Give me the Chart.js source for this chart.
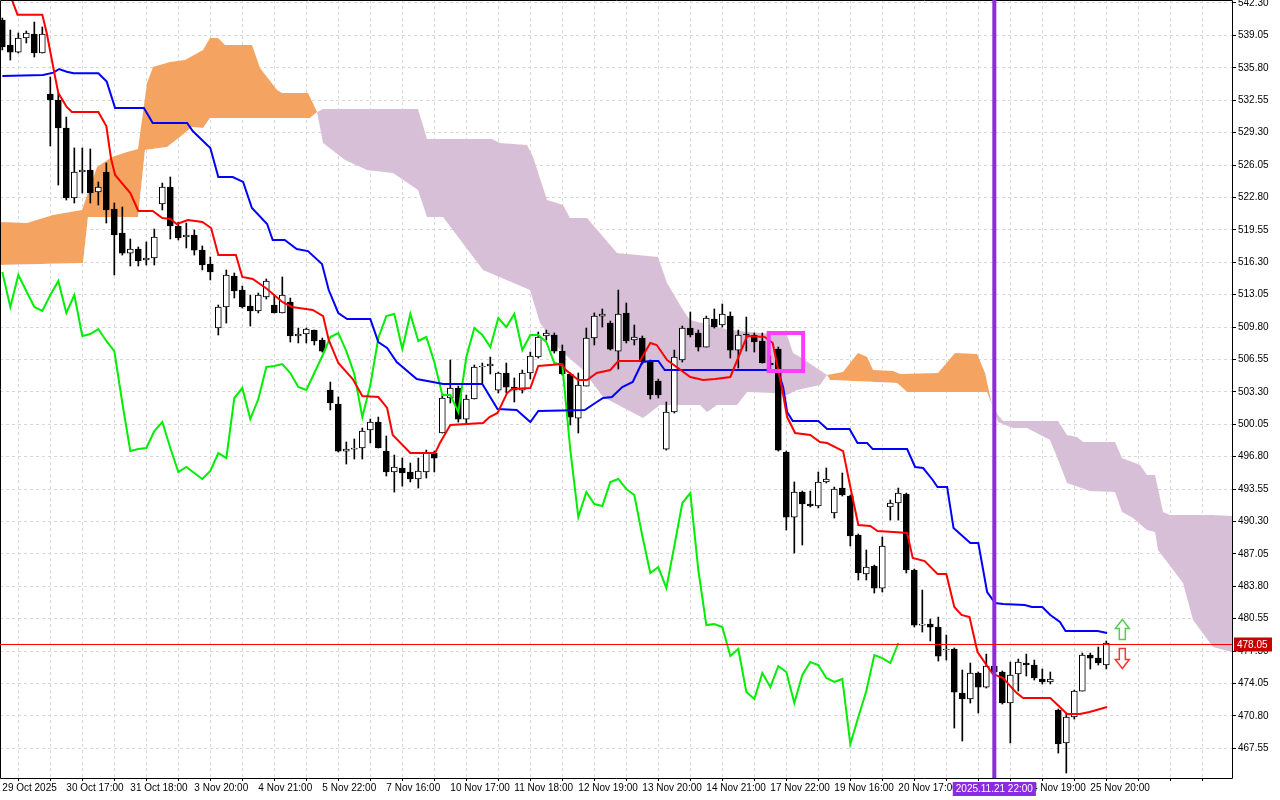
<!DOCTYPE html>
<html><head><meta charset="utf-8">
<script src="https://cdn.jsdelivr.net/npm/chart.js@4.4.1/dist/chart.umd.min.js"></script>
<style>html,body{margin:0;padding:0;background:#fff}canvas{display:block}</style>
</head><body>
<canvas id="c" width="1280" height="800" style="width:1280px;height:800px"></canvas>
<script>
const opens=[540.59,538.09,537.38,538.79,539.19,537.28,533.17,532.57,529.76,522.74,
525.35,525.55,523.34,525.35,521.64,519.23,517.22,517.62,516.52,516.72,
522.14,523.84,519.93,518.83,519.03,517.52,516.12,509.70,511.81,514.92,
513.51,511.91,511.41,512.81,512.01,511.21,512.31,508.90,509.10,509.50,
508.50,503.48,502.08,497.36,497.56,497.67,499.47,500.27,497.36,495.26,
495.66,495.26,494.56,495.26,497.16,499.17,502.68,503.68,500.57,502.58,
505.79,505.89,503.48,505.19,503.78,503.48,505.19,506.79,508.90,509.00,
507.39,505.09,500.67,503.88,508.70,510.90,510.20,507.39,511.21,508.50,
508.70,506.29,504.38,497.56,501.28,506.49,509.70,509.20,507.79,510.60,
510.00,510.90,507.49,509.10,509.00,508.40,506.19,507.59,497.26,490.74,
493.25,492.05,491.85,494.26,491.15,493.65,492.85,488.94,485.03,485.83,
483.62,491.75,492.15,493.05,485.43,479.91,480.01,479.71,477.41,477.51,
473.09,472.49,475.10,473.69,475.80,475.20,472.09,475.00,476.10,475.90,
474.50,474.20,471.39,468.08,470.69,473.29,476.90,476.60,475.90];
const highs=[540.79,539.59,539.29,539.49,540.39,539.89,534.88,533.27,530.86,527.76,
527.76,527.66,524.35,526.25,522.24,521.84,518.63,517.83,518.33,519.63,
524.24,524.85,520.33,520.23,519.53,517.93,516.82,512.01,515.52,515.22,
513.91,513.01,513.21,514.62,513.01,514.82,512.71,509.70,509.70,509.50,
508.70,504.28,502.78,498.27,498.57,499.67,500.57,500.77,498.87,496.96,
496.66,496.16,496.66,497.46,497.36,503.08,506.49,503.88,502.98,505.99,
506.19,506.79,505.29,506.19,504.69,505.49,507.29,509.30,509.50,509.20,
508.00,505.19,505.19,509.70,511.21,511.61,510.40,513.51,512.21,510.00,
508.90,506.49,504.58,502.28,507.49,509.90,511.31,509.50,510.90,511.61,
512.11,511.31,509.50,510.80,509.20,509.20,506.90,507.79,497.36,494.26,
493.35,493.35,495.26,495.66,493.75,495.16,492.95,489.04,487.44,485.93,
488.74,492.45,493.65,493.15,485.53,483.42,480.51,480.71,478.91,477.61,
475.40,476.10,475.20,477.00,476.30,475.30,476.20,476.50,477.00,476.40,
475.50,475.20,471.49,471.08,473.39,477.10,477.10,477.71,478.31];
const lows=[537.59,536.58,537.28,538.29,536.88,537.28,527.96,524.04,522.54,522.24,
523.24,522.24,522.04,520.23,515.02,517.02,515.92,515.92,516.02,516.02,
521.54,518.63,518.53,517.73,517.02,515.52,514.52,509.00,510.20,512.71,
511.71,509.90,511.21,512.61,511.21,511.21,508.30,508.20,508.20,508.00,
507.29,501.48,497.26,496.06,496.56,496.56,498.17,497.67,494.86,493.25,
493.85,494.26,493.65,494.66,495.26,499.17,502.18,500.27,500.07,502.58,
504.18,505.09,503.18,503.18,502.28,503.18,504.59,506.69,508.50,507.19,
504.99,499.97,499.17,503.88,508.00,509.80,507.49,505.59,508.20,508.00,
506.09,502.58,502.68,497.46,501.18,506.29,508.80,507.39,507.79,509.70,
509.80,506.69,505.69,507.39,507.29,506.19,505.60,497.36,489.44,487.13,
487.94,491.75,491.65,494.16,490.64,492.85,487.84,484.43,484.43,483.12,
483.22,490.44,490.44,485.13,479.71,479.21,478.31,476.30,476.40,469.58,
468.28,472.09,471.08,473.59,474.90,471.99,468.08,473.29,474.80,474.40,
474.00,474.00,467.07,465.07,470.48,473.29,475.50,475.90,475.50];
const closes=[537.89,537.38,538.79,539.29,537.28,539.19,532.57,529.76,522.74,525.35,
525.55,523.24,523.84,521.54,519.03,517.22,517.62,516.42,516.72,518.83,
523.84,519.93,518.73,519.03,517.52,516.02,515.32,511.81,515.02,513.41,
511.81,511.41,513.01,514.42,511.21,513.01,508.90,509.10,509.60,508.40,
507.39,502.18,497.36,497.56,497.67,499.37,500.27,497.67,495.26,495.76,
495.16,494.56,495.36,497.16,496.66,502.68,503.68,500.57,502.58,505.79,
505.89,506.09,505.19,503.78,503.48,505.19,506.89,508.80,509.20,507.39,
505.09,500.77,503.98,508.70,510.90,511.11,507.59,511.11,508.40,508.80,
506.29,502.98,502.98,501.28,506.79,509.70,509.00,507.79,510.70,509.80,
511.11,507.49,509.00,509.00,508.30,506.19,506.00,497.46,490.74,493.25,
492.05,491.85,494.26,494.56,493.55,492.95,488.84,485.13,485.73,483.62,
487.84,492.15,493.15,485.43,479.91,480.01,479.71,476.80,477.51,473.19,
472.49,475.10,473.69,475.80,475.20,472.09,474.90,476.20,475.90,474.60,
474.20,474.50,467.98,470.69,473.29,476.90,476.60,476.10,478.11];

// [bar, value]
const tenkan=[[0.6,543.5],[1.2,542.6],[1.9,541.13],[5.0,541.13],[5.55,539.29],[6.6,534.88],[7.0,533.27],[8.05,531.87],[8.7,531.37],[12.0,531.37],[13.0,529.96],[13.6,526.65],[14.1,525.05],[16.0,523.24],[17.0,521.44],[18.8,521.44],[20.0,520.73],[21.0,520.63],[21.8,520.13],[23.2,520.53],[25.0,520.33],[26.1,519.73],[27.0,517.02],[29.2,517.02],[30.0,514.82],[31.3,514.62],[33.1,513.61],[35.0,512.31],[36.2,511.81],[38.8,511.51],[40.1,510.90],[40.8,508.50],[42.0,506.19],[43.8,504.59],[45.0,502.88],[47.0,502.78],[48.1,501.68],[48.8,498.97],[51.0,497.16],[54.1,497.16],[54.7,498.17],[56.0,499.97],[60.1,500.17],[60.9,500.77],[61.9,501.18],[63.1,503.18],[63.7,503.58],[66.0,503.68],[67.0,505.89],[70.0,506.09],[70.3,505.59],[72.0,504.49],[73.1,504.49],[74.3,505.19],[76.0,505.49],[77.0,506.39],[79.7,506.39],[81.0,508.20],[81.8,508.00],[83.1,506.49],[86.0,504.79],[87.6,504.49],[89.1,504.59],[91.0,504.79],[93.1,508.90],[95.3,508.80],[96.3,508.20],[97.5,503.48],[98.1,500.77],[99.1,499.17],[101.0,498.97],[102.2,498.27],[103.1,498.17],[105.1,497.36],[106.0,493.75],[107.0,489.94],[108.5,489.84],[109.4,489.34],[111.4,489.24],[113.1,489.14],[113.8,486.63],[115.3,486.33],[116.9,485.03],[118.0,485.03],[119.0,481.72],[119.9,480.92],[120.9,480.71],[121.9,477.21],[123.8,475.00],[125.1,474.60],[126.8,473.09],[127.6,472.59],[131.0,472.59],[133.1,470.99],[134.7,470.99],[135.9,471.19],[138.1,471.69]];
const kijun=[[0.0,534.98],[5.1,535.08],[6.4,535.31],[7.1,535.68],[8.05,535.41],[8.9,535.25],[12.0,535.25],[13.05,534.41],[14.1,531.77],[17.7,531.77],[18.8,530.26],[23.1,530.26],[23.8,529.46],[24.7,528.76],[26.0,527.76],[27.0,524.85],[28.8,524.85],[30.1,524.35],[31.2,521.74],[33.1,520.13],[33.8,518.53],[35.3,518.53],[36.8,517.63],[38.2,517.42],[39.96,516.12],[40.8,513.51],[42.0,511.21],[43.1,510.60],[46.0,510.60],[47.0,508.30],[48.1,507.70],[49.3,506.29],[51.8,504.59],[53.8,504.29],[55.1,504.08],[60.0,504.08],[61.9,501.58],[64.3,501.48],[66.0,500.27],[67.0,501.38],[72.8,501.48],[74.3,502.28],[75.1,502.68],[76.2,502.78],[77.5,503.78],[78.8,504.29],[80.0,506.29],[81.0,506.39],[82.0,506.39],[82.8,505.49],[96.9,505.49],[97.6,503.78],[98.1,501.28],[98.8,500.37],[102.0,500.37],[103.1,499.57],[105.9,499.57],[106.9,498.17],[108.1,498.17],[108.8,497.56],[113.1,497.56],[114.1,495.76],[115.1,495.66],[116.3,494.46],[116.9,493.75],[118.1,493.75],[118.9,489.64],[121.0,488.14],[122.0,488.14],[123.1,483.22],[124.1,482.12],[125.1,482.02],[127.8,481.92],[128.7,481.72],[130.0,481.72],[131.0,480.92],[132.2,480.21],[132.9,479.31],[136.9,479.31],[138.1,479.11]];
const spanA=[[-0.29,520.33],[3.09,520.23],[6.34,521.04],[9.96,521.54],[11.84,525.85],[13.71,526.85],[15.59,527.35],[16.96,527.66],[18.09,534.28],[18.84,535.88],[20.96,536.38],[22.84,536.58],[25.09,537.58],[25.96,538.79],[26.96,538.79],[27.84,538.09],[31.21,538.09],[32.21,535.78],[34.34,533.57],[34.96,533.27],[38.21,533.27],[39.34,531.37],[40.09,528.26],[42.84,526.55],[45.59,525.55],[48.84,525.25],[51.96,523.54],[53.09,520.83],[55.09,520.83],[60.09,515.52],[65.96,513.51],[67.21,510.20],[69.71,507.49],[72.59,505.49],[75.09,502.78],[80.09,500.67],[82.21,501.98],[87.21,501.98],[88.09,501.28],[89.34,501.98],[91.84,501.98],[93.09,503.28],[96.34,503.18],[98.09,502.98],[99.34,503.48],[102.21,503.98],[103.09,504.99],[105.09,505.29],[106.96,507.19],[108.09,506.79],[108.84,505.49],[111.34,505.39],[112.21,505.09],[116.96,505.19],[119.09,507.19],[121.84,507.09],[122.84,505.19],[123.71,501.98],[124.46,500.27],[126.34,499.67],[128.09,499.67],[130.96,498.47],[131.84,496.76],[133.09,494.16],[135.96,493.35],[139.09,493.25],[139.96,491.25],[141.34,490.64],[143.09,489.44],[144.09,489.24],[144.46,487.43],[147.59,484.13],[148.84,480.41],[151.34,477.71],[153.71,477.21]];
const spanB=[[-0.29,516.02],[10.09,516.22],[10.71,520.83],[16.96,520.83],[17.84,527.56],[20.59,527.86],[22.21,528.86],[23.71,529.86],[25.09,529.76],[25.96,530.76],[38.46,530.76],[39.34,531.37],[40.09,531.67],[51.96,531.67],[53.09,528.66],[61.21,528.66],[62.21,528.26],[65.59,528.06],[66.34,526.85],[68.09,522.54],[70.09,522.04],[70.96,520.73],[73.09,520.73],[76.84,517.22],[81.96,516.82],[83.09,514.22],[85.09,511.51],[85.96,510.50],[90.96,509.50],[94.71,509.20],[98.09,509.00],[98.84,507.19],[99.71,506.79],[103.09,504.99],[103.46,504.49],[111.84,504.19],[113.09,503.28],[123.09,503.28],[123.71,501.98],[124.46,500.97],[125.09,500.37],[131.96,500.37],[133.09,498.97],[134.34,498.77],[135.09,498.27],[139.09,498.27],[139.96,496.66],[142.21,495.96],[143.09,494.96],[144.09,494.96],[145.09,491.25],[145.96,490.95],[151.34,490.95],[153.71,490.84]];
const yTicks=[542.30,539.05,535.80,532.55,529.30,526.05,522.80,519.55,516.30,513.05,509.80,506.55,503.30,500.05,496.80,493.55,490.30,487.05,483.80,480.55,477.30,474.05,470.80,467.55];
const xLabels={0:'29 Oct 2025',8:'30 Oct 17:00',16:'31 Oct 18:00',24:'3 Nov 20:00',32:'4 Nov 21:00',40:'5 Nov 22:00',48:'7 Nov 16:00',56:'10 Nov 17:00',64:'11 Nov 18:00',72:'12 Nov 19:00',80:'13 Nov 20:00',88:'14 Nov 21:00',96:'17 Nov 22:00',104:'19 Nov 16:00',112:'20 Nov 17:00',120:'21 Nov 18:00',128:'24 Nov 19:00',136:'25 Nov 20:00'};
const bidPrice=478.05;
const markerBar=124, markerLabel='2025.11.21 22:00';
const boxBars=[95.8,100.1], boxVals=[509.20,505.39];
const arrowBar=140;
const chikouShift=26;

const pts=a=>a.map(p=>({x:p[0],y:p[1]}));
const FONT='Liberation Sans';
const wickData=highs.map((h,i)=>({x:i,y:[lows[i],h]}));
const bodyData=opens.map((o,i)=>({x:i,y:[o,closes[i]]}));
const bodyColors=opens.map((o,i)=>closes[i]>o?'#ffffff':'#000000');
const chikou=closes.slice(chikouShift).map((c,k)=>({x:k,y:c}));

const overlay={id:'overlay',afterDraw(ch){
  const c=ch.ctx,x=ch.scales.x,y=ch.scales.y,a=ch.chartArea;
  c.save();
  c.strokeStyle='#000';c.lineWidth=1;
  c.beginPath();c.moveTo(a.left+0.5,a.top+0.5);c.lineTo(a.right+0.5,a.top+0.5);c.lineTo(a.right+0.5,a.bottom+0.5);c.lineTo(a.left+0.5,a.bottom+0.5);c.closePath();c.stroke();
  c.strokeStyle='#ff3cff';c.lineWidth=4;
  const bx1=x.getPixelForValue(boxBars[0]),bx2=x.getPixelForValue(boxBars[1]),by1=y.getPixelForValue(boxVals[0]),by2=y.getPixelForValue(boxVals[1]);
  c.strokeRect(bx1,by1,bx2-bx1,by2-by1);
  const mx=x.getPixelForValue(markerBar);
  c.fillStyle='#8a2be2';c.fillRect(mx-2,a.top,4,a.bottom-a.top);
  c.font='10px '+FONT;
  const tw=c.measureText(markerLabel).width;
  c.fillRect(mx-tw/2-3,a.bottom+4,tw+6,14);
  c.fillStyle='#fff';c.textBaseline='middle';c.textAlign='center';
  c.fillText(markerLabel,mx,a.bottom+11.5);
  const py=Math.round(y.getPixelForValue(bidPrice))+0.5;
  c.strokeStyle='#ff0000';c.lineWidth=1;
  c.beginPath();c.moveTo(a.left,py);c.lineTo(a.right,py);c.stroke();
  c.fillStyle='#c80000';c.fillRect(a.right+2,py-7,38,14);
  c.fillStyle='#fff';c.textAlign='left';c.fillText(bidPrice.toFixed(2),a.right+5,py+0.5);
  const ax=x.getPixelForValue(arrowBar);
  function arrow(cx,tipY,dir,col){
    c.strokeStyle=col;c.lineWidth=1.5;c.beginPath();
    const h=20,hw=7,sw=3,hh=9;
    c.moveTo(cx,tipY);c.lineTo(cx+hw,tipY+dir*hh);c.lineTo(cx+sw,tipY+dir*hh);c.lineTo(cx+sw,tipY+dir*h);
    c.lineTo(cx-sw,tipY+dir*h);c.lineTo(cx-sw,tipY+dir*hh);c.lineTo(cx-hw,tipY+dir*hh);c.closePath();c.stroke();
  }
  arrow(ax,py-25,1,'#55cc55');
  arrow(ax,py+24,-1,'#ff3333');
  c.restore();
}};

new Chart(document.getElementById('c'),{
  type:'bar',
  data:{datasets:[
    {type:'line',label:'Senkou A',data:pts(spanA),borderWidth:0,pointRadius:0,borderColor:'rgba(0,0,0,0)',fill:{target:1,above:'#f4a460',below:'#d8bfd8'},order:20},
    {type:'line',label:'Senkou B',data:pts(spanB),borderWidth:0,pointRadius:0,borderColor:'rgba(0,0,0,0)',fill:false,order:21},
    {label:'wick',data:wickData,backgroundColor:'#000',barThickness:1,grouped:false,order:6},
    {label:'body',data:bodyData,backgroundColor:bodyColors,borderColor:'#000',borderWidth:1,borderSkipped:false,barThickness:6,grouped:false,order:5},
    {type:'line',label:'Chikou',data:chikou,borderColor:'#00ee00',borderWidth:2,pointRadius:0,fill:false,order:3},
    {type:'line',label:'Kijun',data:pts(kijun),borderColor:'#0000ff',borderWidth:2,pointRadius:0,fill:false,order:2},
    {type:'line',label:'Tenkan',data:pts(tenkan),borderColor:'#ff0000',borderWidth:2,pointRadius:0,fill:false,order:1}
  ]},
  options:{
    responsive:false,devicePixelRatio:1,animation:false,
    layout:{padding:0},
    plugins:{legend:{display:false},tooltip:{enabled:false}},
    scales:{
      x:{type:'linear',min:-0.29,max:153.71,offset:false,
        afterBuildTicks:s=>{const t=[];for(let v=0;v<=152;v+=4)t.push({value:v});s.ticks=t;},
        afterFit:s=>{s.height=22;s.paddingLeft=0;s.paddingRight=0;},
        ticks:{autoSkip:false,maxRotation:0,minRotation:0,align:'start',padding:1,color:'#000',font:{family:FONT,size:10},callback:v=>xLabels[v]||''},
        grid:{color:'#d8d8d8',tickColor:'#000',tickLength:3},
        border:{display:false,dash:[3,3]}},
      y:{type:'linear',position:'right',min:464.57,max:542.6,
        afterBuildTicks:s=>{s.ticks=yTicks.map(v=>({value:v}));},
        afterFit:s=>{s.width=48;s.paddingTop=0;s.paddingBottom=0;},
        ticks:{padding:2,color:'#000',font:{family:FONT,size:10},callback:v=>v.toFixed(2)},
        grid:{color:'#d8d8d8',tickColor:'#000',tickLength:4},
        border:{display:false,dash:[3,3]}}
    }
  },
  plugins:[overlay]
});
</script>
</body></html>
